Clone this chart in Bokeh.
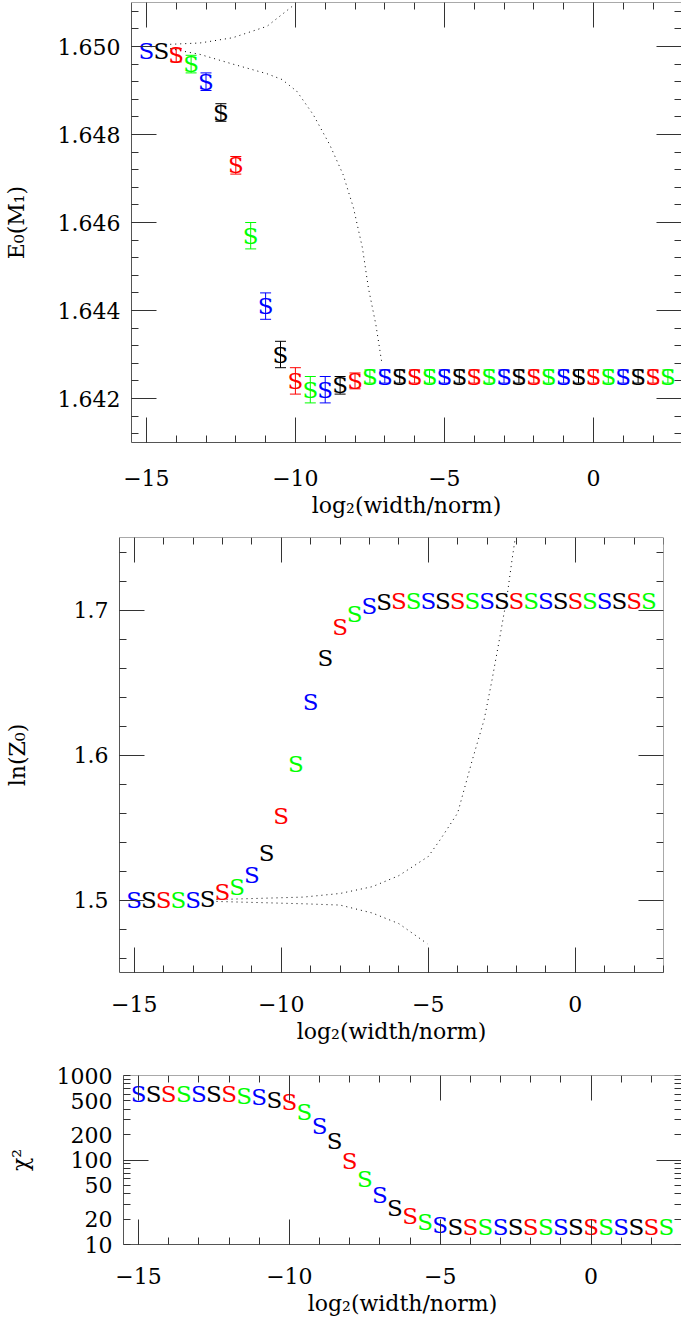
import numpy as np
from bokeh.plotting import figure
from bokeh.models import (LinearAxis, LogAxis, FixedTicker, ColumnDataSource, Whisker, TeeHead,
                          NumeralTickFormatter, CustomJSTickFormatter, Range1d)
from bokeh.core.properties import value
from bokeh.embed import file_html
from bokeh.resources import INLINE

# ---------------- data ----------------
log2_width = [-15.0, -14.5, -14.0, -13.5, -13.0, -12.5, -12.0, -11.5, -11.0, -10.5,
              -10.0, -9.5, -9.0, -8.5, -8.0, -7.5, -7.0, -6.5, -6.0, -5.5,
              -5.0, -4.5, -4.0, -3.5, -3.0, -2.5, -2.0, -1.5, -1.0, -0.5,
              0.0, 0.5, 1.0, 1.5, 2.0, 2.5]
series_colors = ["#0000ff", "#000000", "#ff0000", "#00ff00"]

e0_values = [1.6499, 1.6499, 1.6498, 1.6496, 1.6492, 1.6485, 1.6473, 1.6457, 1.6441, 1.6430,
             1.6424, 1.6422, 1.6422, 1.6423, 1.6424, 1.6425, 1.6425, 1.6425, 1.6425, 1.6425,
             1.6425, 1.6425, 1.6425, 1.6425, 1.6425, 1.6425, 1.6425, 1.6425, 1.6425, 1.6425,
             1.6425, 1.6425, 1.6425, 1.6425, 1.6425, 1.6425]
e0_errors = [0.0, 0.0, 0.00015, 0.0002, 0.0002, 0.0002, 0.0002, 0.0003, 0.0003, 0.0003,
             0.0003, 0.0003, 0.0003, 0.0002, 0.00018, 0.00015, 0.00015, 0.00015, 0.00015, 0.00015,
             0.00015, 0.00015, 0.00015, 0.00015, 0.00015, 0.00015, 0.00015, 0.00015, 0.00015, 0.00015,
             0.00015, 0.00015, 0.00015, 0.00015, 0.00015, 0.00015]

lnz0_values = [1.5000, 1.5000, 1.5000, 1.5000, 1.5000, 1.5005, 1.5055, 1.5092, 1.5173, 1.5322,
               1.5580, 1.5940, 1.6365, 1.6670, 1.6880, 1.6970, 1.7025, 1.7052, 1.7062, 1.7065,
               1.7065, 1.7065, 1.7065, 1.7065, 1.7065, 1.7065, 1.7065, 1.7065, 1.7065, 1.7065,
               1.7065, 1.7065, 1.7065, 1.7065, 1.7065, 1.7065]

chi2_values = [610, 605, 605, 605, 605, 600, 598, 579, 553, 515,
               480, 374, 255, 166, 98, 60, 38.8, 27, 21.8, 18.7,
               17.1, 15.9, 15.9, 15.9, 15.9, 15.9, 15.9, 15.9, 15.9, 15.9,
               15.9, 15.9, 15.9, 15.9, 15.9, 15.9]

# dotted guide curves
e0_upper_x = [-14.2, -13.2, -12.1, -10.95, -10.0]
e0_upper_y = [1.65005, 1.65008, 1.65020, 1.65046, 1.65097]
e0_lower_x = [-14.2, -13.2, -12.1, -10.95, -10.45, -9.95, -9.4, -8.85, -8.4, -8.05,
              -7.75, -7.55, -7.3, -7.1]
e0_lower_y = [1.64995, 1.64982, 1.64960, 1.64938, 1.64925, 1.64898, 1.64845, 1.64777, 1.64709, 1.64633,
              1.64542, 1.64451, 1.64368, 1.64281]

lnz_upper_x = [-12.2, -9.25, -8.0, -6.9, -6.0, -5.0, -4.6, -4.0, -3.5, -3.1,
               -2.83, -2.54, -2.32, -2.15, -2.04]
lnz_upper_y = [1.5003, 1.5020, 1.5045, 1.5092, 1.5168, 1.5300, 1.5414, 1.5600, 1.5967, 1.6243,
               1.6519, 1.6842, 1.7095, 1.7348, 1.7498]
lnz_lower_x = [-12.2, -9.25, -8.0, -6.9, -6.0, -5.03]
lnz_lower_y = [1.4990, 1.4974, 1.4965, 1.4910, 1.4837, 1.4698]

x_major = [-15, -10, -5, 0]
x_minor = list(range(-15, 4))

# ---------------- styling helpers ----------------
AXIS_COLOR = "#555555"
TICK_COLOR = "#333333"
FONT = "DejaVu Serif"


def neg_fmt():
    return CustomJSTickFormatter(code="return tick < 0 ? '\u2212' + Math.abs(tick) : String(tick);")


def base_fig(height, x_end, yr, borders, y_log=False):
    left, right, top, bottom = borders
    p = figure(width=681, height=height, x_range=Range1d(-15.5, x_end), y_range=Range1d(*yr),
               y_axis_type="log" if y_log else "linear", output_backend="svg",
               toolbar_location=None, min_border_left=left, min_border_right=right,
               min_border_top=top, min_border_bottom=bottom)
    p.grid.visible = False
    p.outline_line_color = None
    return p


def style(ax, ticker, major_len=25, minor_len=7):
    ax.ticker = ticker
    ax.major_tick_in = major_len
    ax.major_tick_out = 0
    ax.minor_tick_in = minor_len
    ax.minor_tick_out = 0
    ax.axis_line_color = AXIS_COLOR
    ax.major_tick_line_color = TICK_COLOR
    ax.minor_tick_line_color = TICK_COLOR
    ax.major_label_text_font = FONT
    ax.major_label_text_font_size = "22px"
    ax.major_label_text_color = "#000000"
    ax.major_label_standoff = 12
    ax.axis_label_text_font = FONT
    ax.axis_label_text_font_size = "22px"
    ax.axis_label_text_font_style = "normal"
    ax.axis_label_text_color = "#000000"


def mirror(p, kind, side, ticker, loc, major_len=25, minor_len=7, line=True):
    ax = kind(fixed_location=loc)
    style(ax, ticker, major_len, minor_len)
    ax.formatter = CustomJSTickFormatter(code="return '';")
    ax.major_label_text_font_size = "0px"
    if not line:
        ax.axis_line_color = None
    p.add_layout(ax, side)
    return ax


def x_axes(p, y_end, label_standoff):
    ax = p.xaxis[0]
    style(ax, FixedTicker(ticks=x_major, minor_ticks=x_minor))
    ax.formatter = neg_fmt()
    ax.major_label_standoff = label_standoff
    ax.axis_label = "log\u2082(width/norm)"
    ax.axis_label_standoff = 4
    mirror(p, LinearAxis, "above", FixedTicker(ticks=x_major, minor_ticks=x_minor), y_end)


def marker_source(xs, ys):
    cols = [series_colors[i % 4] for i in range(len(xs))]
    return ColumnDataSource(dict(x=xs, y=ys, t=["S"] * len(xs), c=cols))


def draw_markers(p, src):
    p.text(x="x", y="y", text="t", source=src, text_color="c",
           text_font=value("DejaVu Serif"), text_font_size="23px",
           text_align="center", text_baseline="middle")


# ---------------- panel 1: E0(M1) ----------------
x1_end = 2.956
p1 = base_fig(525, x1_end, (1.641, 1.651), (131, 0, 2, 83))
x_axes(p1, 1.651, 27)
y1_ticks = [1.642, 1.644, 1.646, 1.648, 1.650]
y1_minor = [round(1.6412 + 0.0004 * i, 4) for i in range(25)]
yax = p1.yaxis[0]
style(yax, FixedTicker(ticks=y1_ticks, minor_ticks=y1_minor))
yax.formatter = NumeralTickFormatter(format="0.000")
yax.major_label_standoff = 11
yax.axis_label = "E\u2080(M\u2081)"
yax.axis_label_standoff = 26
mirror(p1, LinearAxis, "right", FixedTicker(ticks=y1_ticks, minor_ticks=y1_minor), x1_end, line=False)

p1.line(e0_upper_x, e0_upper_y, line_color="black", line_dash="1 4", line_width=1)
p1.line(e0_lower_x, e0_lower_y, line_color="black", line_dash="1 4", line_width=1)

for k, col in enumerate(series_colors):
    idx = [i for i in range(len(log2_width)) if i % 4 == k and e0_errors[i] > 0]
    src = ColumnDataSource(dict(
        x=[log2_width[i] for i in idx],
        upper=[e0_values[i] + e0_errors[i] for i in idx],
        lower=[e0_values[i] - e0_errors[i] for i in idx]))
    w = Whisker(source=src, base="x", upper="upper", lower="lower", dimension="height",
                line_color=col, line_width=1,
                upper_head=TeeHead(size=11, line_color=col, line_width=1),
                lower_head=TeeHead(size=11, line_color=col, line_width=1))
    p1.add_layout(w)
draw_markers(p1, marker_source(log2_width, e0_values))

# ---------------- panel 2: ln(Z0) ----------------
p2 = base_fig(525, 3.0, (1.45, 1.75), (119, 18, 12, 78))
x_axes(p2, 1.75, 23)
y2_ticks = [1.5, 1.6, 1.7]
y2_minor = [round(1.46 + 0.02 * i, 2) for i in range(15)]
yax = p2.yaxis[0]
style(yax, FixedTicker(ticks=y2_ticks, minor_ticks=y2_minor))
yax.formatter = NumeralTickFormatter(format="0.0")
yax.major_label_standoff = 11
yax.axis_label = "ln(Z\u2080)"
yax.axis_label_standoff = 41
mirror(p2, LinearAxis, "right", FixedTicker(ticks=y2_ticks, minor_ticks=y2_minor), 3.0)

p2.line(lnz_upper_x, lnz_upper_y, line_color="black", line_dash="1 4", line_width=1)
p2.line(lnz_lower_x, lnz_lower_y, line_color="black", line_dash="1 4", line_width=1)
draw_markers(p2, marker_source(log2_width, lnz0_values))

# ---------------- panel 3: chi^2 ----------------
p3 = base_fig(276, 3.0, (10, 1000), (123, 0, 25, 82), y_log=True)
x_axes(p3, 1000, 23)
y3_ticks = [10, 20, 50, 100, 200, 500, 1000]
y3_minor = [30, 40, 60, 70, 80, 90, 300, 400, 600, 700, 800, 900]
yax = p3.yaxis[0]
style(yax, FixedTicker(ticks=y3_ticks, minor_ticks=y3_minor), major_len=7)
yax.major_label_standoff = 11
yax.axis_label = "\u03c7\u00b2"
yax.axis_label_standoff = 21
mirror(p3, LogAxis, "right", FixedTicker(ticks=y3_ticks, minor_ticks=y3_minor), 3.0, major_len=7)
mirror(p3, LogAxis, "left", FixedTicker(ticks=[100], minor_ticks=[]), -15.5, major_len=25, line=False)
mirror(p3, LogAxis, "right", FixedTicker(ticks=[100], minor_ticks=[]), 3.0, major_len=25, line=False)

draw_markers(p3, marker_source(log2_width, chi2_values))

open("out.html", "w").write(file_html([p1, p2, p3], INLINE))
